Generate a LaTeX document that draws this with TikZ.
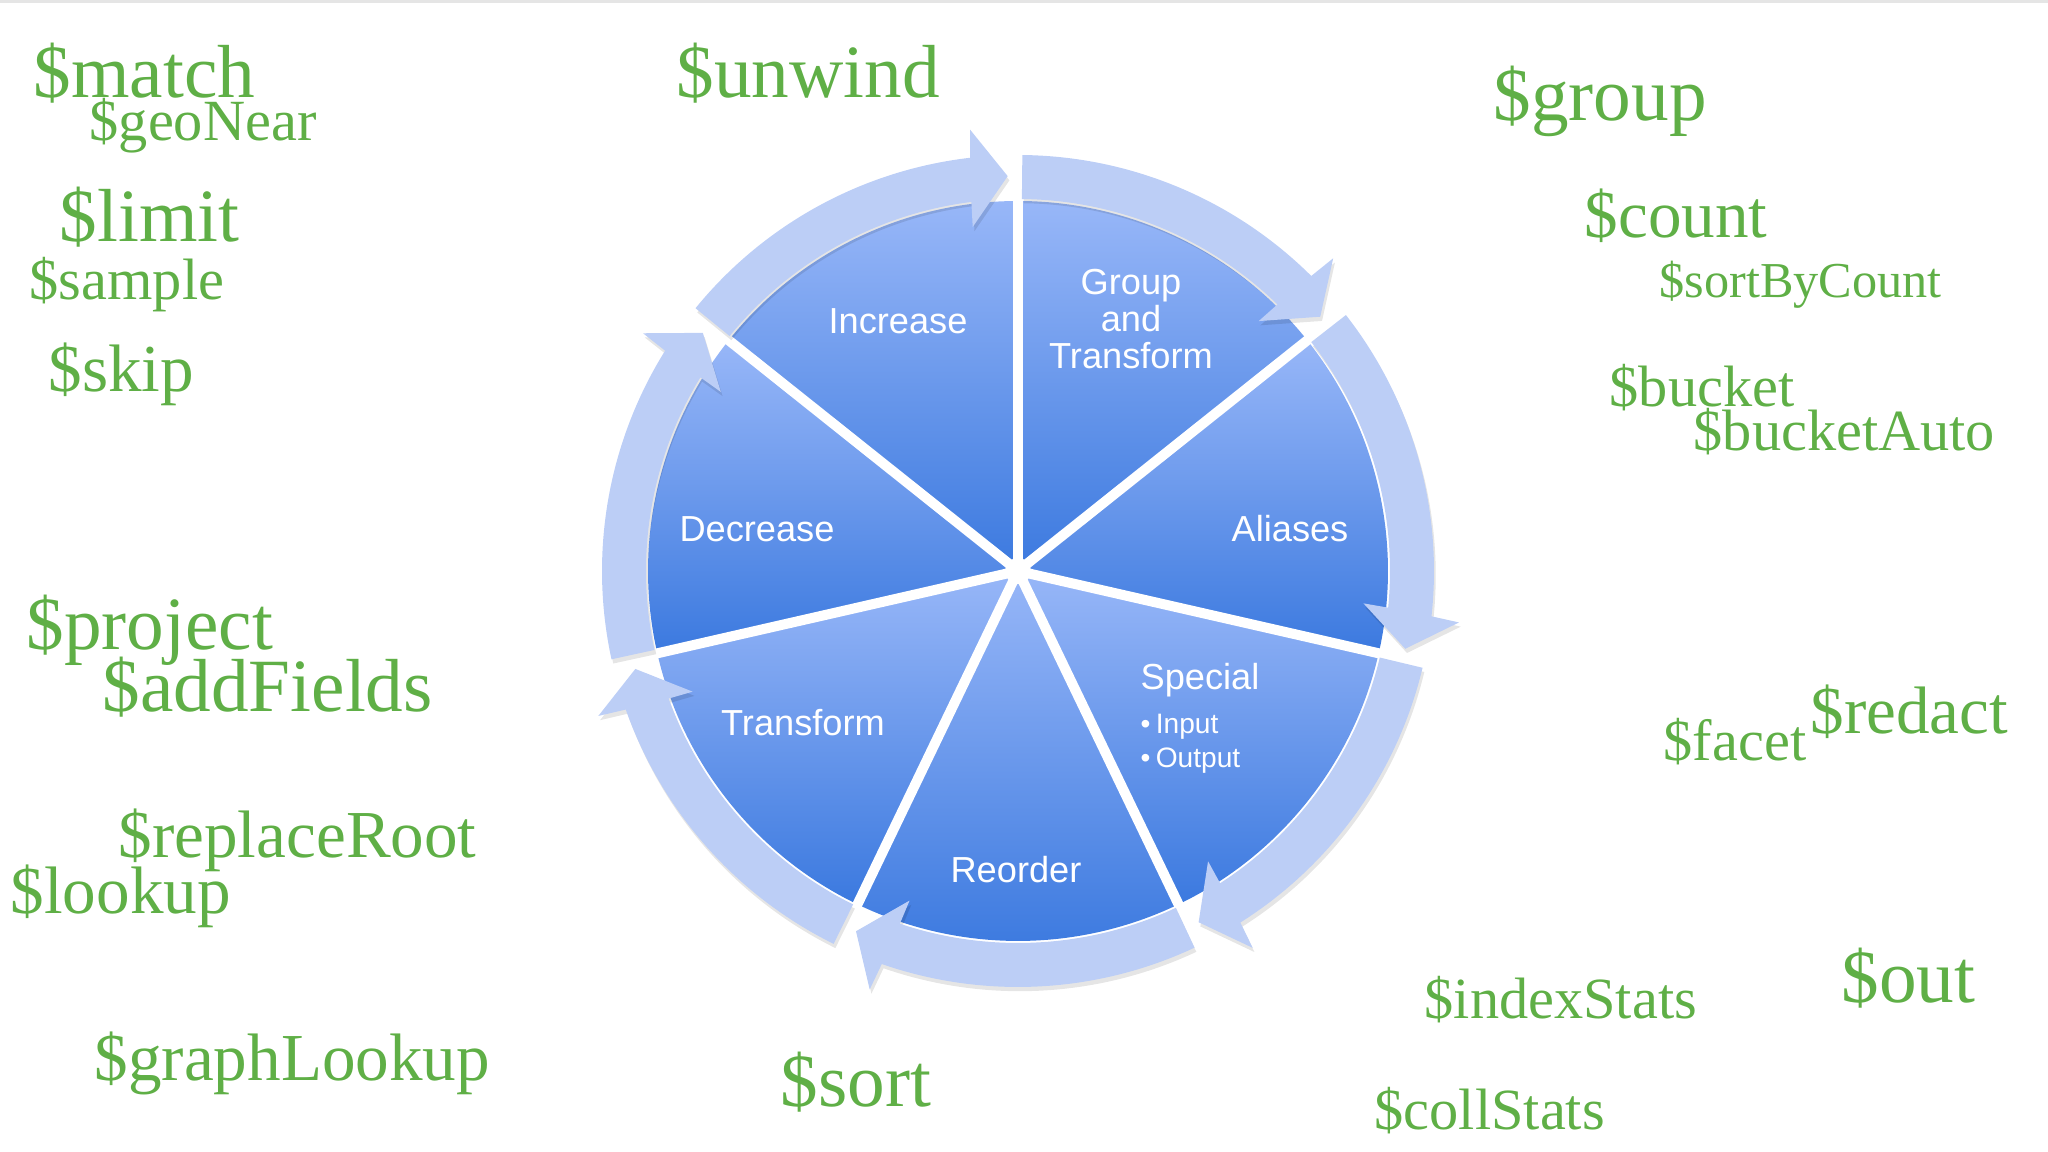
\documentclass[tikz,border=0pt]{standalone}
\usepackage{fontspec}
\setmainfont{Liberation Serif}
\newfontfamily\wheelfont{Liberation Sans}
\usepackage{tikz}
\usepackage{xcolor}
\usetikzlibrary{positioning}
\definecolor{opGreen}{HTML}{5FAF46}
\definecolor{sliceLight}{HTML}{98B7F8}
\definecolor{sliceMid}{HTML}{7EA3F0}
\definecolor{sliceDark}{HTML}{3B79DF}
\definecolor{ringBlue}{HTML}{BCCEF6}

\begin{document}
\begin{tikzpicture}[
    slice/.style={top color=sliceLight, middle color=sliceMid, bottom color=sliceDark},
    ringarrow/.style={fill=ringBlue, preaction={fill=black, fill opacity=0.10, transform canvas={xshift=0.5pt, yshift=-1.2pt}}},
    gapline/.style={white, line width=0.1cm},
    slicelabel/.style={text=white, inner sep=0pt, font=\wheelfont\fontsize{10.3}{10.6}\selectfont},
    bulletlabel/.style={text=white, inner sep=0pt, anchor=base west, font=\wheelfont\fontsize{8}{9}\selectfont},
    op/.style={anchor=base west, inner sep=0pt, text=opGreen},
    opL/.style={op, font=\fontsize{21.4}{24}\selectfont},
    opM/.style={op, font=\fontsize{19.1}{22}\selectfont},
    opS/.style={op, font=\fontsize{16.6}{19}\selectfont},
    opXS/.style={op, font=\fontsize{14.3}{17}\selectfont}
]
    \useasboundingbox (0,0) rectangle (20.48,11.52);
    \draw[gray!20, line width=0.03cm] (0,11.50) -- (20.48,11.50);

    \begin{scope}[shift={(10.18,5.81)}]
        % Slices
        \foreach \k in {0,...,6}{
            \pgfmathsetmacro\g{90-\k*360/7}
            \pgfmathsetmacro\e{\g-360/7}
            \shade[slice] (0,0) -- (\g:3.7) arc[start angle=\g, end angle=\e, radius=3.7] -- cycle;
        }
        % Gaps
        \foreach \k in {0,...,6}
            \draw[gapline] (0,0) -- ({90-\k*360/7}:3.74);
        \fill[white] (0,0) circle (0.13);
        % Ring arrows
        \foreach \k in {0,...,6}{
            \pgfmathsetmacro\g{90-\k*360/7}
            \pgfmathsetmacro\e{\g-360/7}
            \pgfmathsetmacro\ta{\g-0.6}
            \pgfmathsetmacro\hi{\e+7.2}
            \pgfmathsetmacro\ho{\e+6.6}
            \fill[ringarrow] (\ta:3.72) arc[start angle=\ta, end angle=\hi, radius=3.72]
                -- ({\e+7.5}:3.47) -- ({\e+1.5}:3.95) -- ({\e+6.2}:4.44) -- (\ho:4.16)
                arc[start angle=\ho, end angle=\ta, radius=4.16] -- cycle;
        }
    \end{scope}

    % Slice labels
    \node[slicelabel] (increase) at (8.98,8.31) {Increase};
    \node[slicelabel, align=center] (group) at (11.31,8.33) {Group\\and\\Transform};
    \node[slicelabel] (decrease) at (7.57,6.23) {Decrease};
    \node[slicelabel] (aliases) at (12.90,6.23) {Aliases};
    \node[slicelabel] (transform) at (8.03,4.29) {Transform};
    \node[slicelabel] (reorder) at (10.16,2.82) {Reorder};
    \node[slicelabel, anchor=base west] (special) at (11.40,4.62) {Special};
    \node[bulletlabel] (input) at (11.40,4.18) {•\kern1.5pt Input};
    \node[bulletlabel] (output) at (11.40,3.84) {•\kern1.5pt Output};

    % Stages, left
    \node[opL] (match) at (0.33,10.54) {\$match};
    \node[opS] (geonear) at (0.89,10.11) {\$geoNear};
    \node[opL] (limit) at (0.59,9.10) {\$limit};
    \node[opS] (sample) at (0.29,8.52) {\$sample};
    \node[opM] (skip) at (0.48,7.60) {\$skip};
    \node[opL] (project) at (0.26,5.02) {\$project};
    \node[opL] (addfields) at (1.02,4.40) {\$addFields};
    \node[opM] (replaceroot) at (1.18,2.94) {\$replaceRoot};
    \node[opM] (lookup) at (0.10,2.38) {\$lookup};
    \node[opM] (graphlookup) at (0.94,0.71) {\$graphLookup};

    % Stages, top and bottom
    \node[opL] (unwind) at (6.76,10.54) {\$unwind};
    \node[opL] (sort) at (7.80,0.45) {\$sort};

    % Stages, right
    \node[opL] (groupop) at (14.93,10.31) {\$group};
    \node[opM] (count) at (15.84,9.14) {\$count};
    \node[opXS] (sortbycount) at (16.59,8.54) {\$sortByCount};
    \node[opS] (bucket) at (16.09,7.45) {\$bucket};
    \node[opS] (bucketauto) at (16.93,7.01) {\$bucketAuto};
    \node[opS] (facet) at (16.63,3.91) {\$facet};
    \node[opM] (redact) at (18.10,4.18) {\$redact};
    \node[opL] (out) at (18.41,1.49) {\$out};
    \node[opS] (indexstats) at (14.24,1.33) {\$indexStats};
    \node[opS] (collstats) at (13.74,0.22) {\$collStats};
\end{tikzpicture}
\end{document}
